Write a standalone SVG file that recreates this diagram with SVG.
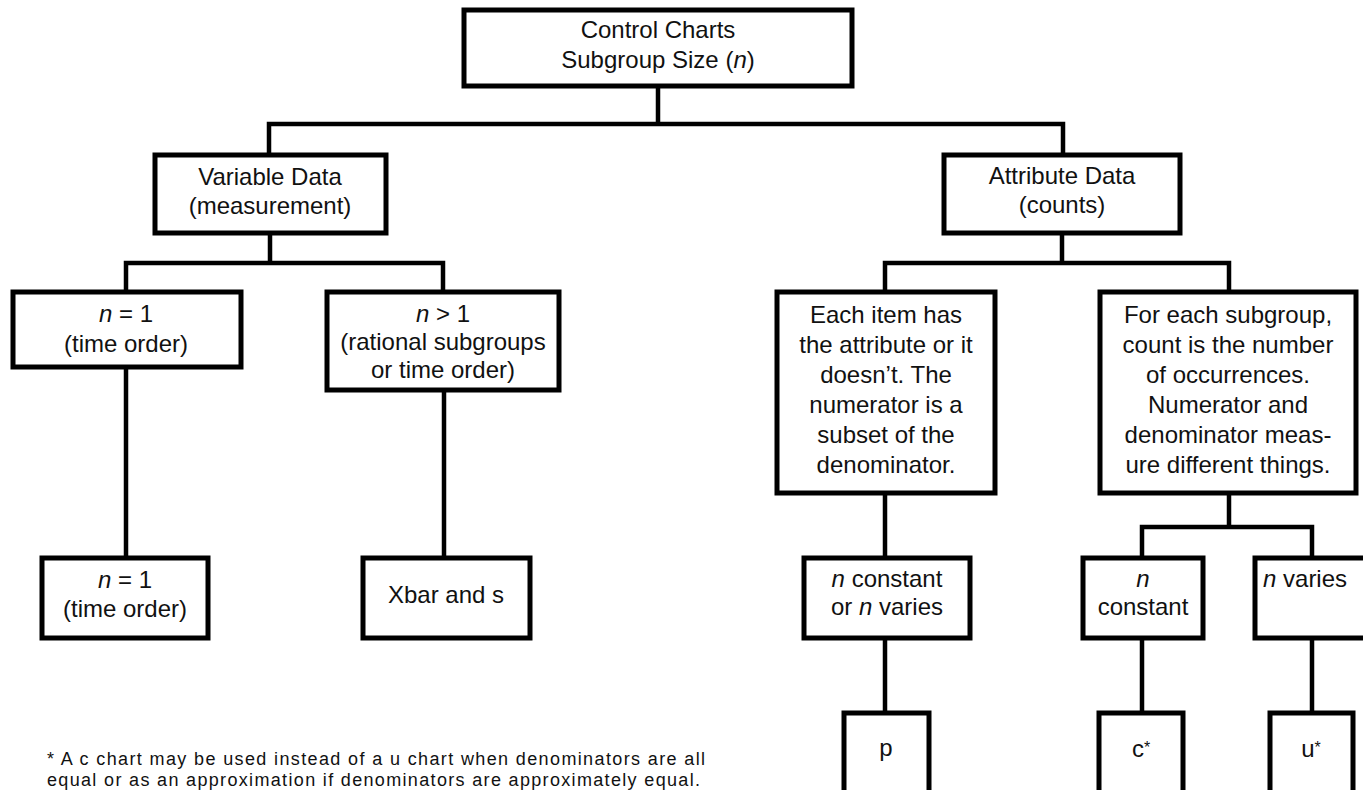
<svg xmlns="http://www.w3.org/2000/svg" width="1363" height="790" viewBox="0 0 1363 790">
  <style>
    .box { fill: #fff; stroke: #000; stroke-width: 5; }
    .wire { fill: none; stroke: #000; stroke-width: 4.5; stroke-linecap: square; }
    .t { font-family: "Liberation Sans", Arial, Helvetica, sans-serif; font-size: 24px; fill: #111; text-anchor: middle; }
    .i { font-style: italic; }
    .sup { font-size: 16px; }
    .note { font-family: "Liberation Sans", Arial, Helvetica, sans-serif; font-size: 18px; fill: #111; }
  </style>
  <rect width="1363" height="790" fill="#fff"/>

  <!-- tree connectors -->
  <g id="connectors" class="wire">
    <path d="M658 86 V124 M269 124 H1063 M269 124 V155 M1063 124 V155"/>
    <path d="M270 233 V263 M126 263 H443 M126 263 V292 M443 263 V292"/>
    <path d="M1062 233 V263 M885 263 H1229 M885 263 V292 M1229 263 V292"/>
    <path d="M126 367 V558 M444 390 V558 M885 493 V558"/>
    <path d="M1229 493 V527 M1142 527 H1312 M1142 527 V558 M1312 527 V558"/>
    <path d="M885 638 V713 M1142 638 V713 M1312 638 V713"/>
  </g>

  <g id="root">
    <rect class="box" x="464" y="10" width="388" height="76"/>
    <text class="t" x="658" y="38">Control Charts</text>
    <text class="t" x="658" y="68">Subgroup Size (<tspan class="i">n</tspan>)</text>
  </g>

  <g id="variable">
    <rect class="box" x="155" y="155" width="231" height="78"/>
    <text class="t" x="270" y="185">Variable Data</text>
    <text class="t" x="270" y="214">(measurement)</text>
  </g>

  <g id="attribute">
    <rect class="box" x="944" y="155" width="236" height="78"/>
    <text class="t" x="1062" y="184">Attribute Data</text>
    <text class="t" x="1062" y="213">(counts)</text>
  </g>

  <g id="n-one">
    <rect class="box" x="13" y="292" width="228" height="75"/>
    <text class="t" x="126" y="322"><tspan class="i">n</tspan> = 1</text>
    <text class="t" x="126" y="352">(time order)</text>
  </g>

  <g id="n-many">
    <rect class="box" x="327" y="292" width="232" height="98"/>
    <text class="t" x="443" y="322"><tspan class="i">n</tspan> &gt; 1</text>
    <text class="t" x="443" y="350">(rational subgroups</text>
    <text class="t" x="443" y="378">or time order)</text>
  </g>

  <g id="defectives">
    <rect class="box" x="777" y="292" width="218" height="201"/>
    <text class="t" x="886" y="323">Each item has</text>
    <text class="t" x="886" y="353">the attribute or it</text>
    <text class="t" x="886" y="383">doesn’t. The</text>
    <text class="t" x="886" y="413">numerator is a</text>
    <text class="t" x="886" y="443">subset of the</text>
    <text class="t" x="886" y="473">denominator.</text>
  </g>

  <g id="defects">
    <rect class="box" x="1100" y="292" width="256" height="201"/>
    <text class="t" x="1228" y="323">For each subgroup,</text>
    <text class="t" x="1228" y="353">count is the number</text>
    <text class="t" x="1228" y="383">of occurrences.</text>
    <text class="t" x="1228" y="413">Numerator and</text>
    <text class="t" x="1228" y="443">denominator meas-</text>
    <text class="t" x="1228" y="473">ure different things.</text>
  </g>

  <g id="individuals">
    <rect class="box" x="42" y="558" width="166" height="80"/>
    <text class="t" x="125" y="588"><tspan class="i">n</tspan> = 1</text>
    <text class="t" x="125" y="617">(time order)</text>
  </g>

  <g id="xbar-s">
    <rect class="box" x="363" y="558" width="167" height="80"/>
    <text class="t" x="446" y="603">Xbar and s</text>
  </g>

  <g id="p-size">
    <rect class="box" x="804" y="558" width="166" height="80"/>
    <text class="t" x="887" y="587"><tspan class="i">n</tspan> constant</text>
    <text class="t" x="887" y="615">or <tspan class="i">n</tspan> varies</text>
  </g>

  <g id="c-size">
    <rect class="box" x="1083" y="558" width="120" height="80"/>
    <text class="t" x="1143" y="587"><tspan class="i">n</tspan></text>
    <text class="t" x="1143" y="615">constant</text>
  </g>

  <g id="u-size">
    <rect class="box" x="1255" y="558" width="130" height="80"/>
    <text class="t" x="1263" y="587" style="text-anchor:start"><tspan class="i">n</tspan> varies</text>
  </g>

  <g id="p-chart">
    <rect class="box" x="844" y="713" width="85" height="90"/>
    <text class="t" x="886" y="756">p</text>
  </g>

  <g id="c-chart">
    <rect class="box" x="1099" y="713" width="84" height="90"/>
    <text class="t" x="1141" y="757">c<tspan class="sup" dy="-4">*</tspan></text>
  </g>

  <g id="u-chart">
    <rect class="box" x="1270" y="713" width="83" height="90"/>
    <text class="t" x="1311" y="757">u<tspan class="sup" dy="-4">*</tspan></text>
  </g>

  <g id="footnote">
    <text class="note" x="47" y="765" textLength="658" lengthAdjust="spacing">* A c chart may be used instead of a u chart when denominators are all</text>
    <text class="note" x="47" y="786" textLength="653" lengthAdjust="spacing">equal or as an approximation if denominators are approximately equal.</text>
  </g>
</svg>
